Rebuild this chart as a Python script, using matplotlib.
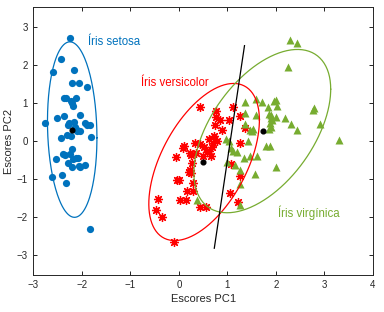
import numpy as np
import matplotlib
matplotlib.use("Agg")
import matplotlib.pyplot as plt

# scores (PC1, PC2)
setosa_pc1 = [-2.24, -2.44, -2.60, -2.17, -2.20, -2.06, -1.89, -2.37, -2.33, -2.13,
              -2.21, -2.19, -2.52, -2.37, -2.04, -2.76, -2.27, -2.16, -1.94, -1.89,
              -1.83, -2.12, -2.04, -2.30, -2.23, -2.44, -1.81, -2.20, -2.38, -2.24,
              -2.35, -2.13, -2.09, -2.53, -2.28, -2.21, -2.06, -2.04, -1.93, -2.61,
              -2.42, -2.33, -1.84, -2.28, -2.14, -2.23, -2.10, -2.18]
setosa_pc2 = [2.69, 2.15, 1.81, 1.86, 1.51, 1.51, 1.42, 1.13, 1.13, 1.14,
              0.99, 0.92, 0.60, 0.66, 0.68, 0.47, 0.47, 0.51, 0.47, 0.41,
              0.43, 0.31, 0.25, 0.16, 0.12, 0.07, 0.10, -0.21, -0.34, -0.34,
              -0.36, -0.45, -0.44, -0.48, -0.58, -0.69, -0.65, -0.69, -0.62, -0.93,
              -0.90, -1.09, -2.31, 0.42, 0.38, 1.05, 0.25, -0.47]

versicolor_pc1 = [0.44, 0.76, 1.11, 1.25, 0.76, 0.85, 1.04, 0.74, 0.88, 1.36,
                  1.25, 0.63, 0.71, 0.69, 0.44, 0.52, 0.08, 0.11, 0.23, 0.25,
                  0.36, 0.50, 0.66, -0.06, 0.27, 1.07, 0.23, 0.20, 0.26, 1.25,
                  -0.04, 0.01, 0.29, 0.16, 0.29, 0.03, 0.15, 1.06, -0.44, -0.48,
                  -0.35, 0.43, 0.56, 1.21, -0.10, 0.34, 0.78, 0.62, 0.72, 0.58]
versicolor_pc2 = [0.88, 0.79, 0.89, 0.65, 0.62, 0.54, 0.55, 0.42, 0.29, 0.35,
                  -0.06, 0.05, -0.06, -0.15, -0.07, -0.15, -0.17, -0.14, -0.32, -0.37,
                  -0.32, -0.39, -0.39, -0.41, -0.58, -0.61, -0.76, -0.80, -0.83, -0.91,
                  -1.02, -1.02, -1.09, -1.30, -1.31, -1.54, -1.54, -1.35, -1.52, -1.82,
                  -2.00, -1.73, -1.73, -1.59, -2.65, -0.06, -0.01, -0.25, 0.12, -0.30]

virginica_pc1 = [2.30, 2.43, 2.26, 1.37, 1.58, 1.71, 1.97, 2.01, 1.84, 2.03,
                 1.37, 1.59, 1.85, 1.90, 2.00, 2.19, 2.76, 2.79, 2.31, 2.44,
                 2.91, 1.88, 1.89, 1.86, 1.37, 1.46, 1.53, 3.31, 0.97, 1.03,
                 1.43, 1.08, 1.20, 1.79, 1.87, 1.47, 1.61, 1.35, 0.99, 1.16,
                 1.25, 1.57, 2.01, 1.26, 0.37, 1.26, 1.92, 1.12, 1.90, 1.50]
virginica_pc2 = [2.65, 2.58, 1.95, 1.03, 1.10, 1.03, 1.05, 1.08, 0.90, 0.92,
                 0.73, 0.69, 0.71, 0.69, 0.64, 0.60, 0.82, 0.86, 0.45, 0.29,
                 0.45, 0.47, 0.38, 0.31, 0.44, 0.29, 0.31, 0.03, 0.05, -0.01,
                 -0.01, -0.19, -0.28, -0.14, -0.14, -0.39, -0.39, -0.45, -0.55, -0.64,
                 -0.77, -0.86, -0.67, -1.12, -1.54, -1.67, 0.54, -0.25, 0.60, 0.27]

# class means (black dots)
means_pc1 = [-2.21, 0.50, 1.73]
means_pc2 = [0.30, -0.55, 0.26]

# ellipses: centre and shape matrix [s11, s12, s22]
ell_setosa = ([-2.20, 0.30], [0.26, -0.11, 5.29])
ell_versicolor = ([0.52, -0.55], [1.30, 1.25, 4.24])
ell_virginica = ([1.72, 0.26], [1.99, 1.55, 4.58])

# separating line
line_pc1 = [0.73, 1.353]
line_pc2 = [-2.81, 2.50]

c_blue = "#0072BD"
c_red = "#FF0000"
c_green = "#77AC30"

plt.rcParams["font.family"] = ["Liberation Sans", "DejaVu Sans"]

fig = plt.figure(figsize=(3.84, 3.12), dpi=100)
ax = fig.add_axes([0.087, 0.12, 0.884, 0.856])


def draw_ellipse(ax, params, color):
    c, s = params
    S = np.array([[s[0], s[1]], [s[1], s[2]]])
    L = np.linalg.cholesky(S)
    t = np.linspace(0, 2 * np.pi, 200)
    pts = L @ np.vstack([np.cos(t), np.sin(t)])
    ax.plot(pts[0] + c[0], pts[1] + c[1], color=color, lw=0.9)


ax.plot(setosa_pc1, setosa_pc2, "o", color=c_blue, ms=5.2, mec="none")
ax.plot(versicolor_pc1, versicolor_pc2, "o", color="#FFB0B0", ms=4.5,
        mec="none", alpha=0.8)
ax.plot(versicolor_pc1, versicolor_pc2, marker=(8, 2, 0), ls="none",
        color=c_red, ms=6.5, mew=0.9)
ax.plot(virginica_pc1, virginica_pc2, "^", color=c_green, ms=6, mec="none")

draw_ellipse(ax, ell_setosa, c_blue)
draw_ellipse(ax, ell_versicolor, c_red)
draw_ellipse(ax, ell_virginica, c_green)

ax.plot(line_pc1, line_pc2, color="black", lw=0.9)
ax.plot(means_pc1, means_pc2, "o", color="black", ms=3.4)

ax.text(-1.87, 2.6, "Íris setosa", color=c_blue, fontsize=8.3, va="center")
ax.text(-0.78, 1.53, "Íris versicolor", color=c_red, fontsize=8.3, va="center")
ax.text(2.04, -1.87, "Íris virgínica", color=c_green, fontsize=8.3, va="center")

ax.set_xlim(-3, 4)
ax.set_ylim(-3.5, 3.5)
ax.set_xticks(range(-3, 5))
ax.set_yticks(range(-3, 4))
ax.tick_params(direction="in", top=True, right=True, length=3, width=0.6,
               labelsize=7, labelcolor="#262626", pad=4)
for sp in ax.spines.values():
    sp.set_linewidth(0.7)
    sp.set_color("#262626")

ax.set_xlabel("Escores PC1", fontsize=8, color="#262626", labelpad=3)
ax.set_ylabel("Escores PC2", fontsize=8, color="#262626", labelpad=2)

fig.savefig("out.png", dpi=100)
